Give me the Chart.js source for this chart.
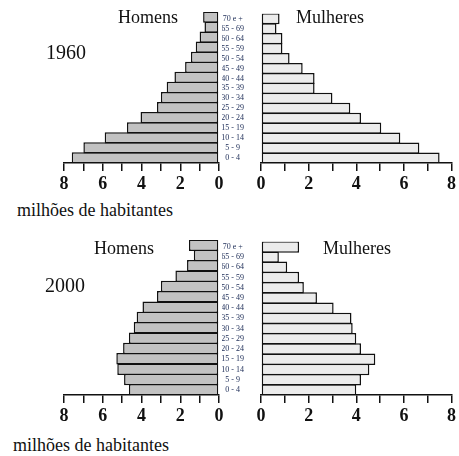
<!DOCTYPE html>
<html>
<head>
<meta charset="utf-8">
<script src="https://cdn.jsdelivr.net/npm/chart.js@4/dist/chart.umd.min.js"></script>
<style>
  body { margin: 0; background: #fff; }
  #wrap { position: relative; width: 459px; height: 456px; overflow: hidden; }
  canvas { position: absolute; }
  .txt { position: absolute; font-family: "Liberation Serif", serif; color: #111; white-space: nowrap; line-height: 1; }
</style>
</head>
<body>
<div id="wrap">
  <canvas id="men1960" width="230" height="200" style="left:0;top:0"></canvas>
  <canvas id="women1960" width="237" height="200" style="left:222px;top:0"></canvas>
  <canvas id="men2000" width="230" height="204" style="left:0;top:228px"></canvas>
  <canvas id="women2000" width="237" height="204" style="left:222px;top:228px"></canvas>

  <div class="txt" style="left:118px;top:8px;font-size:18px">Homens</div>
  <div class="txt" style="left:296px;top:8px;font-size:18px">Mulheres</div>
  <div class="txt" style="left:46px;top:42px;font-size:20px">1960</div>
  <div class="txt" style="left:17px;top:201px;font-size:18px">milhões de habitantes</div>

  <div class="txt" style="left:94px;top:239px;font-size:18px">Homens</div>
  <div class="txt" style="left:323px;top:239px;font-size:18px">Mulheres</div>
  <div class="txt" style="left:45px;top:275px;font-size:20px">2000</div>
  <div class="txt" style="left:13px;top:436px;font-size:18px">milhões de habitantes</div>
</div>
<script>
// age groups, youngest first
var ageGroups = ['0 - 4', '5 - 9', '10 - 14', '15 - 19', '20 - 24', '25 - 29', '30 - 34',
  '35 - 39', '40 - 44', '45 - 49', '50 - 54', '55 - 59', '60 - 64', '65 - 69', '70 e +'];

// millions of inhabitants
var men1960   = [7.6, 7.0, 5.9, 4.75, 4.05, 3.2, 3.0, 2.7, 2.3, 1.75, 1.45, 1.2, 1.0, 0.75, 0.82];
var women1960 = [7.5, 6.65, 5.85, 5.05, 4.2, 3.75, 3.0, 2.25, 2.25, 1.75, 1.2, 0.9, 0.9, 0.65, 0.78];
var men2000   = [4.65, 4.9, 5.25, 5.3, 4.95, 4.65, 4.4, 4.25, 3.95, 3.2, 3.0, 2.25, 1.65, 1.3, 1.55];
var women2000 = [4.0, 4.2, 4.55, 4.8, 4.2, 4.0, 3.85, 3.8, 3.05, 2.35, 1.8, 1.6, 1.1, 0.75, 1.6];

var axisMax = 8;
var labelledTicks = [0, 2, 4, 6, 8];

var ink = '#111';
var serif = '"Liberation Serif", "Times New Roman", serif';

Chart.defaults.font.family = serif;

function makePyramid(id, values, isMen, padTop) {
    var ctx = document.getElementById(id).getContext('2d');
    return new Chart(ctx, {
        type: 'bar',
        data: {
            labels: ageGroups,
            datasets: [{
                data: values,
                backgroundColor: isMen ? '#c2c2c2' : '#ececec',
                borderColor: ink,
                borderWidth: 1.5,
                borderSkipped: false,
                barPercentage: 1.12,
                categoryPercentage: 1
            }]
        },
        options: {
            indexAxis: 'y',
            responsive: false,
            animation: false,
            layout: {
                padding: isMen
                    ? { left: 25, right: 11, top: padTop, bottom: 0 }
                    : { left: 0, right: 4, top: padTop, bottom: 0 }
            },
            plugins: {
                legend: { display: false },
                tooltip: { enabled: false }
            },
            scales: {
                x: {
                    type: 'linear',
                    min: 0,
                    max: axisMax,
                    reverse: isMen,
                    afterFit: function(scale) { scale.height = 37; },
                    ticks: {
                        stepSize: 1,
                        autoSkip: false,
                        maxRotation: 0,
                        padding: 3,
                        color: ink,
                        font: { family: serif, size: 18, weight: 'bold' },
                        callback: function(v) {
                            return labelledTicks.indexOf(v) !== -1 ? v : '';
                        }
                    },
                    grid: {
                        drawOnChartArea: false,
                        drawTicks: true,
                        tickLength: 8,
                        color: ink,
                        lineWidth: 1.5
                    },
                    border: { display: true, color: ink, width: 1.5 }
                },
                y: {
                    display: !isMen,
                    reverse: true,
                    afterFit: function(scale) { scale.width = 39; },
                    grid: { display: false },
                    border: { display: false },
                    ticks: {
                        autoSkip: false,
                        crossAlign: 'center',
                        padding: 9,
                        color: '#1a2a55',
                        font: { family: serif, size: 8 }
                    }
                }
            }
        }
    });
}

function drawAll() {
    makePyramid('men1960', men1960, true, 12);
    makePyramid('women1960', women1960, false, 12);
    makePyramid('men2000', men2000, true, 12);
    makePyramid('women2000', women2000, false, 12);
}

if (document.fonts && document.fonts.load) {
    document.fonts.load('18px "Liberation Serif"').then(drawAll, drawAll);
} else {
    drawAll();
}
</script>
</body>
</html>
